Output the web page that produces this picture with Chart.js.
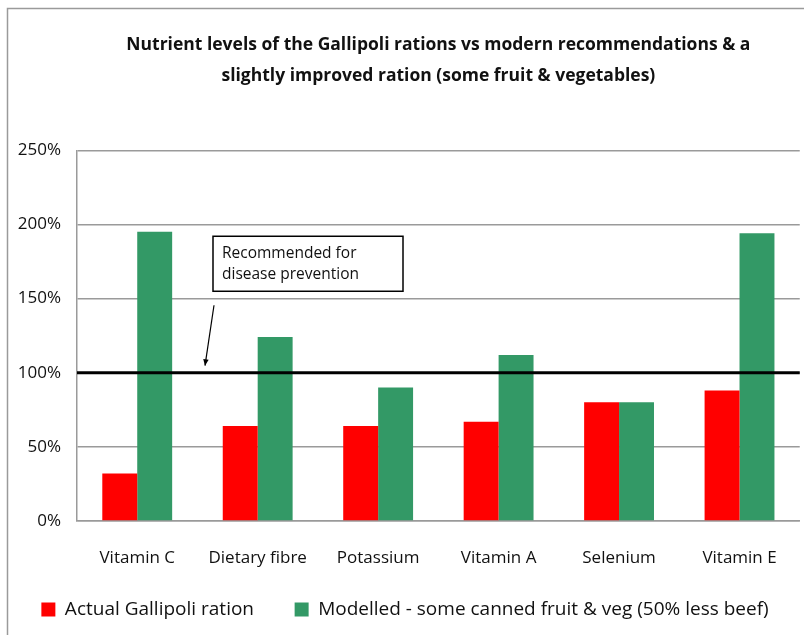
<!DOCTYPE html>
<html>
<head>
<meta charset="utf-8">
<script src="https://cdn.jsdelivr.net/npm/chart.js@4"></script>
<style>
    html, body { margin: 0; padding: 0; background: #fff; }
    #wrap { width: 804px; height: 635px; }
</style>
</head>
<body>
<div id="wrap"><canvas id="nutrientChart" width="804" height="635"></canvas></div>
<script>
var categories = ["Vitamin C", "Dietary fibre", "Potassium", "Vitamin A", "Selenium", "Vitamin E"];
var actualRation = [32, 64, 64, 67, 80, 88];
var modelledRation = [195, 124, 90, 112, 80, 194];
var yTicks = [0, 50, 100, 150, 200, 250];
var recommendedLevel = 100;
var titleLines = ["Nutrient levels of the Gallipoli rations vs modern recommendations & a",
                  "slightly improved ration (some fruit & vegetables)"];
var noteLines = ["Recommended for", "disease prevention"];

var fontFamily = "'Open Sans', Lato, sans-serif";

// frame, 100% line, note box and arrow
var extras = {
    id: "extras",
    beforeDraw: function (chart) {
        var ctx = chart.ctx;
        ctx.save();
        ctx.fillStyle = "#fff";
        ctx.fillRect(0, 0, chart.width, chart.height);
        ctx.strokeStyle = "#9a9a9a";
        ctx.lineWidth = 1.5;
        ctx.beginPath();
        ctx.moveTo(7.5, chart.height);
        ctx.lineTo(7.5, 8.5);
        ctx.lineTo(chart.width, 8.5);
        ctx.stroke();
        ctx.restore();
    },
    afterDatasetsDraw: function (chart) {
        var ctx = chart.ctx;
        var area = chart.chartArea;
        var y = chart.scales.y.getPixelForValue(recommendedLevel);
        ctx.save();
        ctx.strokeStyle = "#000";
        ctx.lineWidth = 3;
        ctx.beginPath();
        ctx.moveTo(area.left, y);
        ctx.lineTo(area.right, y);
        ctx.stroke();

        // note box
        var bx = area.left + 136, by = chart.scales.y.getPixelForValue(192), bw = 190, bh = 55;
        ctx.lineWidth = 1.5;
        ctx.fillStyle = "#fff";
        ctx.fillRect(bx, by, bw, bh);
        ctx.strokeRect(bx, by, bw, bh);
        ctx.fillStyle = "#111";
        ctx.font = "15.5px " + fontFamily;
        ctx.textBaseline = "middle";
        ctx.fillText(noteLines[0], bx + 9, by + 17);
        ctx.fillText(noteLines[1], bx + 9, by + 38);

        // arrow
        var x0 = bx + 1, y0 = by + bh + 14;
        var x1 = bx - 8, y1 = y - 7;
        ctx.lineWidth = 1.2;
        ctx.beginPath();
        ctx.moveTo(x0, y0);
        ctx.lineTo(x1, y1);
        ctx.stroke();
        var ang = Math.atan2(y1 - y0, x1 - x0);
        ctx.beginPath();
        ctx.moveTo(x1, y1);
        ctx.lineTo(x1 - 7 * Math.cos(ang - 0.4), y1 - 7 * Math.sin(ang - 0.4));
        ctx.lineTo(x1 - 7 * Math.cos(ang + 0.4), y1 - 7 * Math.sin(ang + 0.4));
        ctx.closePath();
        ctx.fillStyle = "#000";
        ctx.fill();
        ctx.restore();
    }
};

var canvas = document.getElementById("nutrientChart");

var chartData = {
    labels: categories,
    datasets: [{
        label: "Actual Gallipoli ration",
        data: actualRation,
        backgroundColor: "#ff0000",
        borderWidth: 0
    }, {
        label: "Modelled - some canned fruit & veg (50% less beef)",
        data: modelledRation,
        backgroundColor: "#339966",
        borderWidth: 0
    }]
};

var nutrientChart = new Chart(canvas, {
    type: "bar",
    data: chartData,
    plugins: [extras],
    options: {
        responsive: false,
        animation: false,
        layout: { padding: { left: 8, right: 2, top: 8, bottom: 6 } },
        datasets: { bar: { categoryPercentage: 0.58, barPercentage: 1.0 } },
        plugins: {
            title: {
                display: true,
                fullSize: false,
                text: titleLines,
                color: "#111",
                font: { family: fontFamily, size: 17.5, weight: "bold", lineHeight: 1.75 },
                padding: { top: 22, bottom: 59 }
            },
            legend: {
                position: "bottom",
                labels: {
                    color: "#111",
                    font: { family: fontFamily, size: 19 },
                    boxWidth: 14,
                    boxHeight: 14,
                    padding: 11,
                    generateLabels: function (chart) {
                        var items = Chart.defaults.plugins.legend.labels.generateLabels(chart);
                        items[0].text = items[0].text + "      ";
                        return items;
                    }
                }
            },
            tooltip: { enabled: false }
        },
        scales: {
            x: {
                afterFit: function (scale) { scale.height = 68; },
                grid: { display: false, drawTicks: false },
                border: { color: "#9a9a9a", width: 1.5 },
                ticks: { color: "#111", font: { family: fontFamily, size: 17 }, padding: 27 }
            },
            y: {
                min: 0,
                max: 250,
                afterBuildTicks: function (scale) {
                    scale.ticks = yTicks.map(function (v) { return { value: v }; });
                },
                afterFit: function (scale) { scale.width = 69; },
                grid: { color: "#9a9a9a", lineWidth: 1.5, drawTicks: false },
                border: { color: "#9a9a9a", width: 1.5 },
                ticks: {
                    color: "#111",
                    font: { family: fontFamily, size: 17 },
                    padding: 16,
                    callback: function (v) { return v + "%"; }
                }
            }
        }
    }
});
</script>
</body>
</html>
